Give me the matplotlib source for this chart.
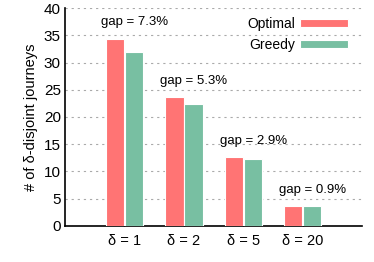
import numpy as np
import matplotlib
matplotlib.use("Agg")
import matplotlib.pyplot as plt

plt.rcParams['font.family'] = ['Liberation Sans', 'DejaVu Sans']

deltas = ['δ = 1', 'δ = 2', 'δ = 5', 'δ = 20']
optimal = [34.4, 23.6, 12.6, 3.6]
greedy = [32.0, 22.4, 12.2, 3.55]
gaps = ['gap = 7.3%', 'gap = 5.3%', 'gap = 2.9%', 'gap = 0.9%']

red = '#FF7474'
green = '#78BFA2'

fig = plt.figure(figsize=(3.74, 2.62), dpi=100)
ax = fig.add_axes([0.174, 0.1385, 0.794, 0.83])

x = np.arange(len(deltas))
w = 0.31
ax.bar(x - w / 2 - 0.005, optimal, w, color=red, edgecolor='white', linewidth=0.8, label='Optimal', zorder=3)
ax.bar(x + w / 2 + 0.005, greedy, w, color=green, edgecolor='white', linewidth=0.8, label='Greedy', zorder=3)

for i, g in enumerate(gaps):
    ax.text(x[i] + 0.17, optimal[i] + 3.0, g, ha='center', va='center', fontsize=9.5)

ax.set_xlim(-1, 4)
ax.set_ylim(0, 40)
ax.set_yticks(np.arange(0, 41, 5))
ax.set_xticks(x)
ax.set_xticklabels(deltas, fontsize=10.5)
ax.tick_params(axis='y', labelsize=11, length=0, pad=3)
ax.tick_params(axis='x', direction='in', length=3, width=1, pad=6)
ax.set_ylabel('# of δ-disjoint journeys', fontsize=10.5, labelpad=4)

ax.yaxis.grid(True, color='#aaaaaa', linestyle=(0, (2, 3.5)), linewidth=0.8, zorder=0)
ax.spines['top'].set_visible(False)
ax.spines['right'].set_visible(False)
ax.spines['left'].set_linewidth(1.2)
ax.spines['bottom'].set_linewidth(1.2)

ax.legend(loc='upper right', frameon=False, markerfirst=False, fontsize=10,
          handlelength=3.4, handleheight=0.55, labelspacing=0.5,
          handletextpad=0.4, borderaxespad=0.0, bbox_to_anchor=(0.97, 0.985))

fig.savefig('out.png', dpi=100)
